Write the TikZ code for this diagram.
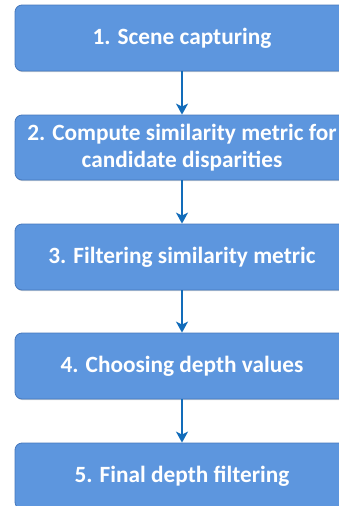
\documentclass[tikz,border=0pt]{standalone}
\usepackage{fontspec}
\setmainfont{Carlito}
\usetikzlibrary{arrows.meta,shadows}

\definecolor{boxfill}{RGB}{93,150,222}
\definecolor{boxline}{RGB}{70,120,188}
\definecolor{flowblue}{RGB}{18,108,186}

\tikzset{
  stage/.style={rectangle, rounded corners=7pt, fill=boxfill, draw=boxline, line width=0.8pt,
    text=white, align=center, minimum width=334pt, minimum height=66pt,
    drop shadow={shadow xshift=0.8pt, shadow yshift=-1.2pt, opacity=0.35}},
  flow/.style={draw=flowblue, line width=2pt, -{Stealth[length=11pt,width=12pt,inset=3pt]}}
}

\begin{document}
\begin{tikzpicture}[x=1pt, y=-1pt, font=\bfseries\fontsize{23.3}{27.5}\selectfont]
      \useasboundingbox (0,0) rectangle (339,506);
      \clip (0,0) rectangle (339,506);

      \draw (182,38) node[stage] (n1) {1. Scene capturing};
      \draw (182,147.5) node[stage, minimum height=65pt] (n2) {2. Compute similarity metric for\\candidate disparities};
      \draw (182,257) node[stage] (n3) {3. Filtering similarity metric};
      \draw (182,366) node[stage] (n4) {4. Choosing depth values};
      \draw (182,476) node[stage] (n5) {5. Final depth filtering};

      \draw[flow] (n1) -- (n2);
      \draw[flow] (n2) -- (n3);
      \draw[flow] (n3) -- (n4);
      \draw[flow] (n4) -- (n5);
\end{tikzpicture}
\end{document}
